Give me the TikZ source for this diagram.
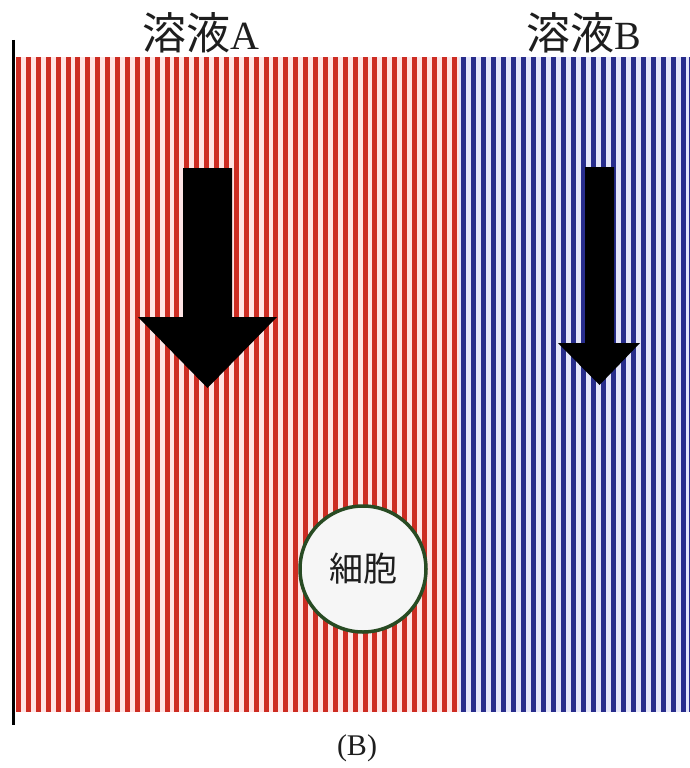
\documentclass[tikz,border=0pt]{standalone}
\usepackage{fontspec}
\setmainfont{Liberation Serif}
\newfontfamily\cjk{Noto Sans CJK JP}
\definecolor{stripeRed}{RGB}{205,45,35}
\definecolor{stripeBlue}{RGB}{40,45,140}
\definecolor{tintRed}{RGB}{255,228,228}
\definecolor{tintBlue}{RGB}{228,230,250}
\definecolor{cellGreen}{RGB}{40,75,35}
\definecolor{inkGray}{RGB}{30,30,30}
\tikzset{
  redstripe/.style={fill=stripeRed},
  bluestripe/.style={fill=stripeBlue},
  bigarrow/.style={fill=black},
  toplabel/.style={anchor=base, inner sep=0, text=inkGray, font=\fontsize{40}{40}\selectfont},
  cellnode/.style={circle, draw=cellGreen, line width=3.5pt, fill=gray!7, minimum size=126pt, inner sep=0pt, text=inkGray, font=\cjk\fontsize{34}{34}\selectfont},
}
\begin{document}
\begin{tikzpicture}[x=1pt,y=-1pt]
\useasboundingbox (0,0) rectangle (690,768);
% backgrounds
\fill[tintRed] (16,57) rectangle (459,712);
\fill[tintBlue] (459,57) rectangle (690,712);
% stripes
\foreach \i in {0,...,44} \fill[redstripe] ({16+9.9*\i},57) rectangle ++(5,655);
\foreach \i in {0,...,22} \fill[bluestripe] ({460.5+10*\i},57) rectangle ++(5,655);
\fill[bluestripe] (689,57) rectangle (690,712);
% left black line
\draw[line width=3pt] (13,40) -- (13,725);
% arrows
\fill[bigarrow] (183,168) -- (232,168) -- (232,317) -- (277,317) -- (207.5,388) -- (138,317) -- (183,317) -- cycle;
\fill[bigarrow] (585,167) -- (614,167) -- (614,343) -- (640,343) -- (599.5,385) -- (558,343) -- (585,343) -- cycle;
% cell
\node[cellnode] (cell) at (363,569) {細胞};
% labels
\node[toplabel] (labA) at (200.5,50) {{\cjk\fontsize{44}{44}\selectfont 溶液}A};
\node[toplabel] (labB) at (583.5,49) {{\cjk\fontsize{44}{44}\selectfont 溶液}B};
\node[anchor=base, inner sep=0, text=inkGray, font=\fontsize{30}{30}\selectfont] (caption) at (357,755) {(B)};
\end{tikzpicture}
\end{document}
